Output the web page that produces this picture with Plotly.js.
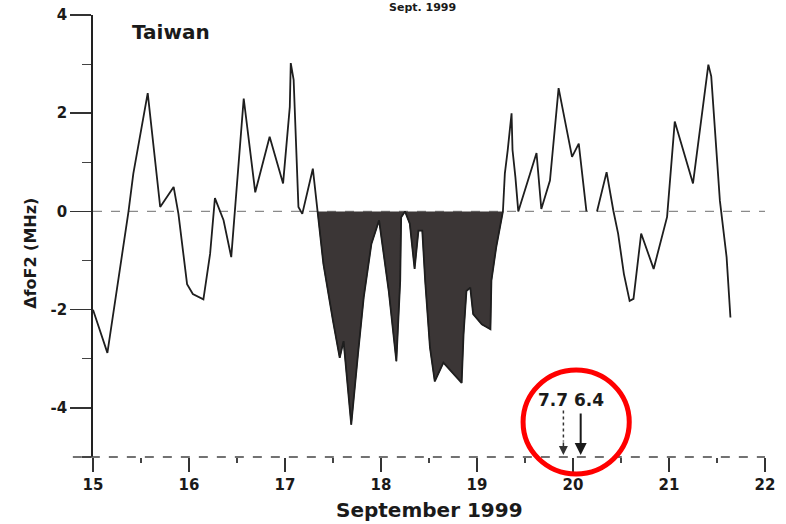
<!DOCTYPE html>
<html>
<head>
<meta charset="utf-8">
<script src="https://cdn.plot.ly/plotly-3.0.1.min.js"></script>
<style>html,body{margin:0;padding:0;background:#fff;}#chart{width:786px;height:524px;}</style>
</head>
<body>
<div id="chart"></div>
<script>
// Day of September 1999 (UT, fractional days)
const days = [
  15.00, 15.15, 15.37, 15.42, 15.57, 15.70, 15.84, 15.89, 15.98, 16.04,
  16.15, 16.22, 16.27, 16.36, 16.44, 16.48, 16.57, 16.69, 16.84, 16.98,
  17.05, 17.06, 17.09, 17.14, 17.18, 17.29, 17.34,
  17.40, 17.50, 17.57, 17.61, 17.69, 17.76, 17.82, 17.90, 17.98,
  18.08, 18.16, 18.20, 18.21, 18.25, 18.30, 18.35, 18.39, 18.43, 18.46,
  18.51, 18.56, 18.65, 18.84, 18.86, 18.89, 18.93, 18.96, 19.05, 19.14,
  19.15, 19.20, 19.27,
  19.29, 19.32, 19.36, 19.37, 19.40, 19.43, 19.62, 19.67, 19.76, 19.85,
  19.99, 20.06, 20.14, 20.20, 20.25, 20.35, 20.42, 20.47, 20.53, 20.59,
  20.63, 20.71, 20.84, 20.98, 21.06, 21.25, 21.41, 21.44, 21.53, 21.60,
  21.64
];
// ΔfoF2 in MHz
const dfoF2 = [
  -2.00, -2.88, 0.00, 0.77, 2.41, 0.09, 0.50, -0.05, -1.48, -1.68,
  -1.79, -0.86, 0.27, -0.18, -0.93, 0.02, 2.30, 0.39, 1.52, 0.57,
  2.13, 3.02, 2.68, 0.09, -0.05, 0.87, 0.00,
  -1.07, -2.23, -2.98, -2.64, -4.34, -2.91, -1.75, -0.66, -0.18,
  -1.61, -3.05, -1.41, -0.12, 0.00, -0.25, -1.17, -0.39, -0.39, -1.41,
  -2.77, -3.46, -3.08, -3.49, -2.50, -1.62, -1.55, -2.09, -2.30, -2.40,
  -1.41, -0.73, 0.00,
  0.77, 1.25, 2.00, 1.25, 0.70, 0.00, 1.19, 0.05, 0.63, 2.51,
  1.11, 1.38, 0.00, null, 0.00, 0.80, 0.02, -0.45, -1.27, -1.82,
  -1.78, -0.45, -1.17, -0.11, 1.83, 0.57, 2.99, 2.75, 0.22, -0.93,
  -2.16
];
// Shaded depression period
const stormStart = 17.34, stormEnd = 19.27;
// Earthquake markers (magnitude, time)
const quakeMag = ["7.7", "6.4"];
const quakeDay = [19.90, 20.08];

const xTicks = [15, 16, 17, 18, 19, 20, 21, 22];
const yTicks = [-4, -2, 0, 2, 4];

const stormX = [], stormY = [];
days.forEach((d, i) => { if (d >= stormStart && d <= stormEnd) { stormX.push(d); stormY.push(dfoF2[i]); } });

const FONT = "DejaVu Sans, Arial, sans-serif";

const traces = [
  {x: stormX, y: stormY, type: 'scatter', mode: 'lines', fill: 'tozeroy',
   fillcolor: '#3b3636', line: {color: '#2a2626', width: 1}, hoverinfo: 'skip'},
  {x: days, y: dfoF2, type: 'scatter', mode: 'lines', connectgaps: false,
   line: {color: '#1e1e1e', width: 1.8}}
];

const layout = {
  width: 786, height: 524,
  margin: {l: 93, r: 21, t: 15, b: 67},
  paper_bgcolor: '#ffffff', plot_bgcolor: '#ffffff',
  showlegend: false,
  font: {family: FONT, color: '#1a1a1a'},
  xaxis: {
    range: [15, 22], tickvals: xTicks, ticktext: xTicks.map(String),
    ticks: 'outside', ticklen: 14, tickwidth: 1.5, tickcolor: '#333',
    minor: {dtick: 0.5, tick0: 15, ticks: 'outside', ticklen: 5, tickwidth: 1.2, tickcolor: '#444'},
    showline: false, showgrid: false, zeroline: false,
    tickfont: {family: FONT, size: 15, weight: 'bold', color: '#1a1a1a'}
  },
  yaxis: {
    range: [-5, 4], tickvals: yTicks, ticktext: yTicks.map(String),
    ticks: 'outside', ticklen: 21, tickwidth: 1.5, tickcolor: '#333',
    minor: {dtick: 1, tick0: 0, ticks: 'outside', ticklen: 9, tickwidth: 1.2, tickcolor: '#444'},
    showline: true, linecolor: '#222', linewidth: 1.8,
    showgrid: false, zeroline: false,
    tickfont: {family: FONT, size: 15, weight: 'bold', color: '#1a1a1a'}
  },
  shapes: [
    {type: 'line', xref: 'x', yref: 'y', x0: 15, x1: 22, y0: 0, y1: 0,
     line: {color: '#8a8a8a', width: 1.3, dash: 'dash'}, layer: 'below'},
    {type: 'line', xref: 'paper', yref: 'paper', x0: -0.03, x1: 1, y0: 0, y1: 0,
     line: {color: '#444', width: 1.5, dash: 'dash'}},
    {type: 'line', xref: 'x', yref: 'paper', x0: quakeDay[0], x1: quakeDay[0], y0: 0.105, y1: 0.035,
     line: {color: '#333', width: 1.5, dash: 'dot'}},
    {type: 'circle', xref: 'paper', yref: 'paper', x0: 0.640, x1: 0.798, y0: -0.0385, y1: 0.197,
     line: {color: '#ff0000', width: 5}}
  ],
  annotations: [
    {text: 'Taiwan', xref: 'paper', yref: 'paper', x: 0.055, y: 0.9615,
     xanchor: 'left', yanchor: 'middle', showarrow: false,
     font: {family: FONT, size: 20, weight: 'bold', color: '#1a1a1a'}},
    {text: 'September 1999', xref: 'paper', yref: 'paper', x: 0.5, y: -0.12,
     xanchor: 'center', yanchor: 'middle', showarrow: false,
     font: {family: FONT, size: 20, weight: 'bold', color: '#1a1a1a'}},
    {text: 'ΔfoF2 (MHz)', xref: 'paper', yref: 'paper', x: -0.094, y: 0.4615,
     xanchor: 'center', yanchor: 'middle', textangle: -90, showarrow: false,
     font: {family: FONT, size: 16, weight: 'bold', color: '#1a1a1a'}},
    {text: 'Sept. 1999', xref: 'paper', yref: 'paper', x: 0.491, y: 1.018,
     xanchor: 'center', yanchor: 'middle', showarrow: false,
     font: {family: FONT, size: 11, weight: 'bold', color: '#1a1a1a'}},
    {text: quakeMag.join(' '), xref: 'paper', yref: 'paper', x: 0.712, y: 0.129,
     xanchor: 'center', yanchor: 'middle', showarrow: false,
     font: {family: FONT, size: 17, weight: 'bold', color: '#1a1a1a'}},
    {text: '', x: quakeDay[0], y: -5, xref: 'x', yref: 'y', showarrow: true,
     ax: 0, ay: -16, axref: 'pixel', ayref: 'pixel', arrowhead: 2, arrowsize: 1.2,
     arrowwidth: 1.5, arrowcolor: '#333', standoff: 2},
    {text: '', x: quakeDay[1], y: -5, xref: 'x', yref: 'y', showarrow: true,
     ax: 0, ay: -45, arrowhead: 2, arrowsize: 1.2,
     arrowwidth: 2, arrowcolor: '#1a1a1a', standoff: 2}
  ]
};

Plotly.newPlot('chart', traces, layout, {displayModeBar: false, staticPlot: true});
</script>
</body>
</html>
